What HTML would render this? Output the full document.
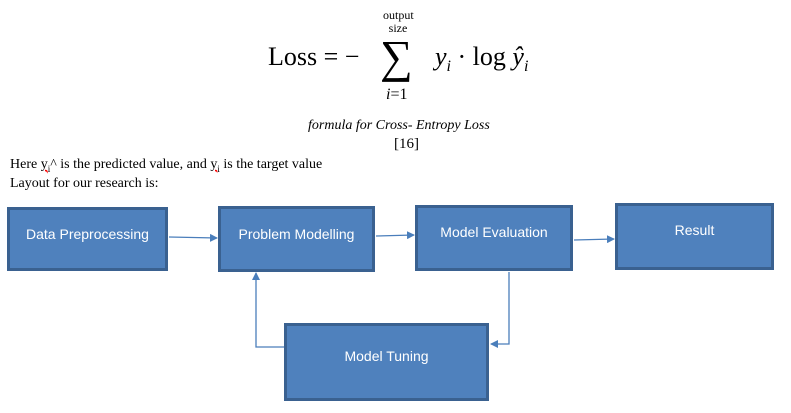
<!DOCTYPE html>
<html><head><style>
body{margin:0;width:791px;height:413px;background:#fff;position:relative;overflow:hidden;font-family:"Liberation Serif",serif}
.t{position:absolute;white-space:nowrap}
.b{position:absolute;background:#4f81bd;border:3px solid #3a6190;box-sizing:border-box;color:#fff;font-family:"Liberation Sans",sans-serif;font-size:14px;text-align:center}
</style></head><body>
<div class="t" style="left:383px;top:9px;font-size:12px;line-height:13px;text-align:center;width:30px;">output<br>size</div>
<div class="t" style="left:268px;top:42px;font-size:26px;">Loss = −</div>
<div class="t" style="left:380px;top:30px;font-size:46px;">∑</div>
<div class="t" style="left:435px;top:42px;font-size:26px;"><i>y<sub style="font-size:16px">i</sub></i> · log <i>ŷ<sub style="font-size:16px">i</sub></i></div>
<div class="t" style="left:386px;top:86px;font-size:16px;"><i>i</i>=1</div>
<div class="t" style="left:308px;top:118px;font-size:14px;font-style:italic;">formula for Cross- Entropy Loss</div>
<div class="t" style="left:394px;top:136px;font-size:15px;">[16]</div>
<div class="t" style="left:10px;top:157px;font-size:14px;">Here <u style="text-decoration:underline wavy red">y<sub style="font-size:9px">i</sub></u>^ is the predicted value, and <u style="text-decoration:underline wavy red">y<sub style="font-size:9px">i</sub></u> is the target value</div>
<div class="t" style="left:10px;top:176px;font-size:14px;">Layout for our research is:</div>
<div class="b" style="left:7px;top:207px;width:161px;height:64px;padding-top:16px">Data Preprocessing</div>
<div class="b" style="left:218px;top:206px;width:157px;height:66px;padding-top:17px">Problem Modelling</div>
<div class="b" style="left:415px;top:205px;width:158px;height:66px;padding-top:16px">Model Evaluation</div>
<div class="b" style="left:615px;top:203px;width:159px;height:67px;padding-top:16px">Result</div>
<div class="b" style="left:284px;top:323px;width:205px;height:78px;padding-top:22px">Model Tuning</div>
<svg width="791" height="413" style="position:absolute;left:0;top:0">
<defs><marker id="a" markerWidth="8" markerHeight="8" refX="7" refY="4" orient="auto" markerUnits="userSpaceOnUse"><path d="M0,0L8,4L0,8z" fill="#4a7ebb"/></marker></defs>
<g stroke="#4a7ebb" stroke-width="1.3" fill="none">
<line x1="169" y1="237" x2="217" y2="238" marker-end="url(#a)"/>
<line x1="376" y1="236" x2="414" y2="235" marker-end="url(#a)"/>
<line x1="574" y1="240" x2="614" y2="239" marker-end="url(#a)"/>
<polyline points="509,272 509,344 491,344" marker-end="url(#a)"/>
<polyline points="284,347 256,347 256,273" marker-end="url(#a)"/>
</g></svg>
</body></html>
